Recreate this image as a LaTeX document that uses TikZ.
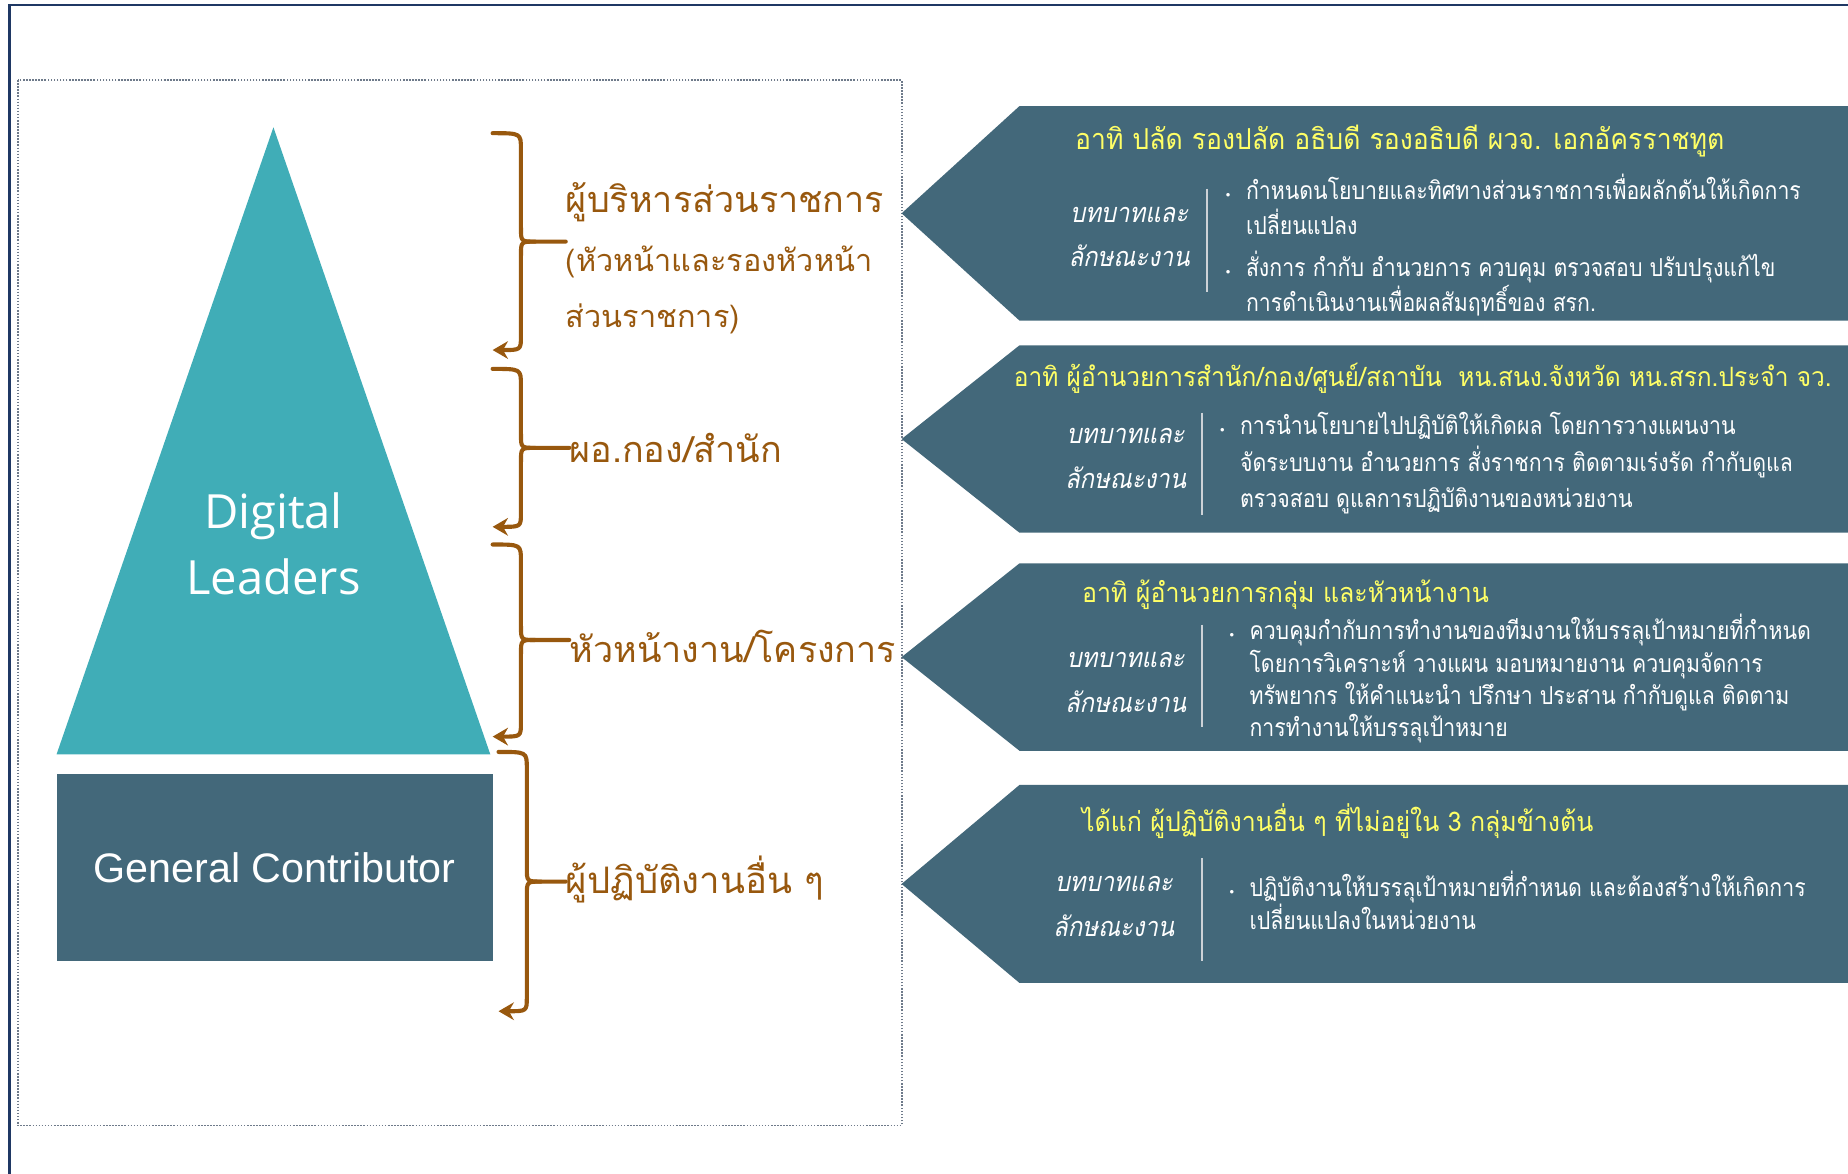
\documentclass[tikz,border=0pt]{standalone}
\usepackage{fontspec}
\setmainfont{Liberation Sans}
\newfontfamily\thaifont[Script=Thai]{Loma}
\newfontfamily\thaicond[Script=Thai,FakeStretch=0.86]{Loma}
\newfontfamily\thaihead[Script=Thai,FakeStretch=0.92]{Loma}
\newfontfamily\thaicondit[Script=Thai,FakeStretch=0.88,FakeSlant=0.2]{Loma}
\newfontfamily\leadfont{Open Sans}
\newfontfamily\dotfont{Liberation Sans}
\usetikzlibrary{arrows.meta,positioning}

\definecolor{panelblue}{RGB}{67,104,122}
\definecolor{pyramidteal}{RGB}{64,173,183}
\definecolor{bracebrown}{RGB}{152,88,14}
\definecolor{headyellow}{RGB}{255,255,102}
\definecolor{framenavy}{RGB}{31,56,100}
\definecolor{dotgray}{RGB}{110,122,138}
\definecolor{rulegray}{RGB}{205,210,215}

\newcommand{\pbullet}{\makebox[17pt][l]{\dotfont\fontsize{11}{11}\selectfont\textbullet}}
\newcommand{\pindent}{\hspace*{17pt}}

\begin{document}
\begin{tikzpicture}[x=1pt,y=-1pt,
    brace/.style={draw=bracebrown,line width=3.5pt,line cap=round,line join=round},
    rolelabel/.style={anchor=base west,inner sep=0pt,text=bracebrown,
        font=\thaifont\fontsize{30.5}{36}\selectfont},
    panelhead/.style={anchor=west,inner sep=0pt,text=headyellow,
        font=\thaihead\fontsize{23}{28}\selectfont},
    paneltag/.style={align=center,inner sep=0pt,text=white,
        font=\thaicondit\fontsize{23}{38}\selectfont},
    panelbody/.style={anchor=west,align=left,inner sep=0pt,text=white,
        font=\thaicond\fontsize{21}{30}\selectfont}]
    \useasboundingbox (0,0) rectangle (1568,996);

    \draw[framenavy,line width=2pt] (8,996) -- (8,4) -- (1568,4);
    \draw[dotgray,line width=1.5pt,dash pattern=on 1.3pt off 1.3pt]
        (15,68) rectangle (765,955);

    \fill[pyramidteal] (232,108) -- (416,640) -- (48,640) -- cycle;
    \node[align=center,text=white,font=\leadfont\fontsize{40}{56}\selectfont]
        (leaders) at (232,461) {Digital\\Leaders};
    \node[fill=panelblue,minimum width=370pt,minimum height=158pt,text=white,
        font=\fontsize{35}{40}\selectfont] (general) at (233,736) {General Contributor};

    \node[rolelabel] (lab1) at (480,180) {ผู้บริหารส่วนราชการ};
    \node[rolelabel,font=\thaifont\fontsize{26}{30}\selectfont] (lab1a) at (480,230)
        {(หัวหน้าและรองหัวหน้า};
    \node[rolelabel,font=\thaifont\fontsize{26}{30}\selectfont] (lab1b) at (480,278)
        {ส่วนราชการ)};
    \node[rolelabel] (lab2) at (483,392) {ผอ.กอง/สำนัก};
    \node[rolelabel] (lab3) at (483,562) {หัวหน้างาน/โครงการ};
    \node[rolelabel,font=\thaifont\fontsize{31}{36}\selectfont] (lab4) at (480,758)
        {ผู้ปฏิบัติงานอื่น ๆ};

    \foreach \i/\ya/\ym/\yb/\x in {1/113/205/297/442,2/313/380/447/442,
                                   3/462/543/625/442,4/638/748/858/447}{
        \draw[brace] (\x-24,\ya) .. controls (\x,\ya) .. (\x,\ya+14) -- (\x,\ym-12)
            .. controls (\x,\ym) .. (\x+12,\ym) -- (lab\i.west |- 0,\ym);
        \draw[brace,-{Stealth[length=13pt,width=15pt]}] (\x+12,\ym)
            .. controls (\x,\ym) .. (\x,\ym+12) -- (\x,\yb-12)
            .. controls (\x,\yb) .. (\x-24,\yb);
    }

    \foreach \ya/\yb in {90/272,293/452,478/637,666/834}
        \fill[panelblue] (765,{(\ya+\yb)/2}) -- (865,\ya) -- (1568,\ya)
            -- (1568,\yb) -- (865,\yb) -- cycle;

    \node[panelhead,font=\thaihead\fontsize{24.5}{28}\selectfont] (head1) at (912,120)
        {อาทิ ปลัด รองปลัด อธิบดี รองอธิบดี ผวจ. เอกอัครราชทูต};
    \node[panelhead,font=\thaihead\fontsize{22.6}{28}\selectfont] (head2) at (860,321)
        {อาทิ ผู้อำนวยการสำนัก/กอง/ศูนย์/สถาบัน\ \ หน.สนง.จังหวัด หน.สรก.ประจำ จว.};
    \node[panelhead] (head3) at (918,505) {อาทิ ผู้อำนวยการกลุ่ม และหัวหน้างาน};
    \node[panelhead] (head4) at (918,697)
        {ได้แก่ ผู้ปฏิบัติงานอื่น ๆ ที่ไม่อยู่ใน 3 กลุ่มข้างต้น};

    \node[paneltag] (tag1) at (958,201) {บทบาทและ\\ลักษณะงาน};
    \node[paneltag] (tag2) at (955,389) {บทบาทและ\\ลักษณะงาน};
    \node[paneltag] (tag3) at (955,579) {บทบาทและ\\ลักษณะงาน};
    \node[paneltag] (tag4) at (945,769) {บทบาทและ\\ลักษณะงาน};

    \draw[rulegray,line width=1.2pt] (1024,160) -- (1024,248);
    \draw[rulegray,line width=1.2pt] (1020,350) -- (1020,437);
    \draw[rulegray,line width=1.2pt] (1020,530) -- (1020,617);
    \draw[rulegray,line width=1.2pt] (1020,728) -- (1020,815);

    \node[panelbody] (duty1) at (1040,208)
        {\pbullet กำหนดนโยบายและทิศทางส่วนราชการเพื่อผลักดันให้เกิดการ\\
         \pindent เปลี่ยนแปลง\\[5pt]
         \pbullet สั่งการ กำกับ อำนวยการ ควบคุม ตรวจสอบ ปรับปรุงแก้ไข\\
         \pindent การดำเนินงานเพื่อผลสัมฤทธิ์ของ สรก.};
    \node[panelbody,font=\thaicond\fontsize{21}{31}\selectfont] (duty2) at (1035,393)
        {\pbullet การนำนโยบายไปปฏิบัติให้เกิดผล โดยการวางแผนงาน\\
         \pindent จัดระบบงาน อำนวยการ สั่งราชการ ติดตามเร่งรัด กำกับดูแล\\
         \pindent ตรวจสอบ ดูแลการปฏิบัติงานของหน่วยงาน};
    \node[panelbody,font=\thaicond\fontsize{21}{27.5}\selectfont] (duty3) at (1043,576)
        {\pbullet ควบคุมกำกับการทำงานของทีมงานให้บรรลุเป้าหมายที่กำหนด\\
         \pindent โดยการวิเคราะห์ วางแผน มอบหมายงาน ควบคุมจัดการ\\
         \pindent ทรัพยากร ให้คำแนะนำ ปรึกษา ประสาน กำกับดูแล ติดตาม\\
         \pindent การทำงานให้บรรลุเป้าหมาย};
    \node[panelbody,font=\thaicond\fontsize{21}{27}\selectfont] (duty4) at (1043,764)
        {\pbullet ปฏิบัติงานให้บรรลุเป้าหมายที่กำหนด และต้องสร้างให้เกิดการ\\
         \pindent เปลี่ยนแปลงในหน่วยงาน};
\end{tikzpicture}
\end{document}
